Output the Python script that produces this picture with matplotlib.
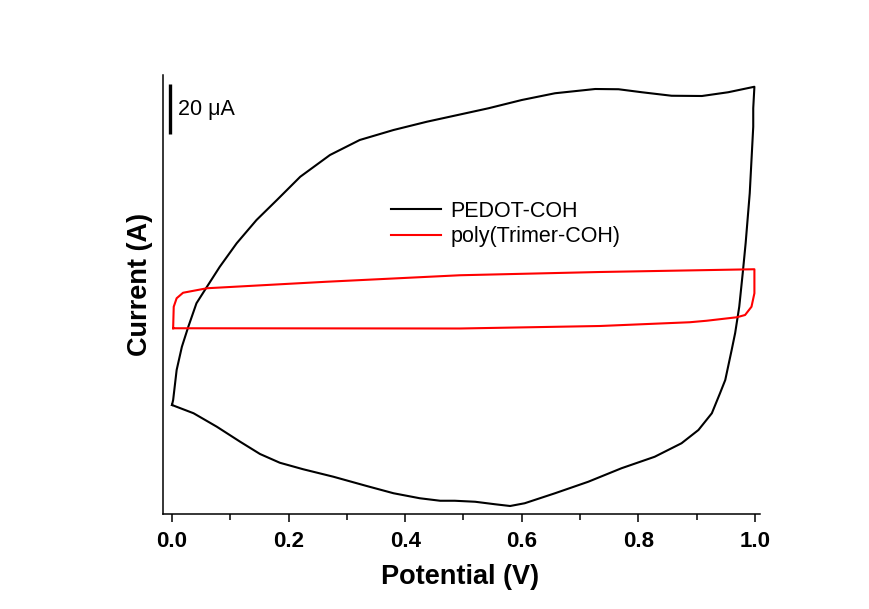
import matplotlib
matplotlib.use("Agg")
import matplotlib.pyplot as plt
import numpy as np

plt.rcParams["font.family"] = ["Liberation Sans", "DejaVu Sans"]

# PEDOT-COH, forward sweep (V, uA)
pedot_fwd_v = [0.000, 0.002, 0.008, 0.017, 0.028, 0.042, 0.060, 0.082, 0.111, 0.145,
               0.180, 0.220, 0.271, 0.322, 0.380, 0.437, 0.494, 0.543, 0.600, 0.657,
               0.726, 0.766, 0.806, 0.857, 0.909, 0.954, 0.999]
pedot_fwd_i = [-42.0, -40.0, -28.0, -18.7, -10.7, -1.3, 5.3, 13.3, 22.7, 32.0,
               40.0, 49.3, 58.0, 64.0, 68.0, 71.3, 74.2, 76.7, 80.0, 82.7,
               84.4, 84.3, 83.1, 81.7, 81.6, 83.1, 85.3]
# PEDOT-COH, reverse sweep
pedot_rev_v = [0.999, 0.997, 0.997, 0.991, 0.984, 0.979, 0.973, 0.966, 0.960, 0.949,
               0.940, 0.926, 0.903, 0.874, 0.828, 0.771, 0.714, 0.657, 0.605, 0.580,
               0.554, 0.520, 0.485, 0.460, 0.425, 0.380, 0.334, 0.277, 0.225, 0.185,
               0.151, 0.117, 0.077, 0.037, 0.000]
pedot_rev_i = [85.3, 76.7, 69.3, 42.7, 22.8, 10.8, -2.7, -13.2, -20.0, -32.0,
               -37.3, -45.3, -52.0, -57.3, -62.7, -67.3, -72.7, -77.3, -81.3, -82.4,
               -81.7, -80.7, -80.3, -80.3, -79.3, -77.3, -74.4, -70.7, -67.7, -65.1,
               -61.6, -56.7, -50.7, -45.3, -42.0]

# poly(Trimer-COH)
trimer_v = [0.002, 0.003, 0.008, 0.019, 0.060, 0.265, 0.494, 0.734, 0.999,
            0.999, 0.994, 0.983, 0.969, 0.917, 0.888, 0.734, 0.494, 0.002]
trimer_i = [-11.3, -2.7, 0.7, 2.9, 4.7, 7.3, 9.9, 11.2, 12.3,
            2.7, -2.7, -6.0, -6.9, -8.3, -8.9, -10.4, -11.4, -11.3]

scale_bar = 20  # uA

fig = plt.figure(figsize=(8.7, 6.09), dpi=100)
ax = fig.add_axes([163 / 870, 95 / 609, 597 / 870, 439 / 609])

ax.plot(pedot_fwd_v + pedot_rev_v, pedot_fwd_i + pedot_rev_i,
        color="black", lw=1.5, label="PEDOT-COH")
ax.plot(trimer_v, trimer_i, color="red", lw=1.5, label="poly(Trimer-COH)")

# 20 uA scale bar
ax.plot([-0.0034, -0.0034], [86.4, 86.4 - scale_bar], color="black", lw=2.4,
        solid_capstyle="butt")
ax.text(0.0105, 76.2, "20 μA", fontsize=15.5, ha="left", va="center")

ax.set_xlim(-0.0154, 1.0086)
ax.set_ylim(-85.6, 90.0)
ax.set_xticks(np.arange(0, 1.01, 0.2))
ax.set_xticks(np.arange(0.1, 1.0, 0.2), minor=True)
ax.set_xticklabels(["0.0", "0.2", "0.4", "0.6", "0.8", "1.0"],
                   fontsize=16, fontweight="bold")
ax.set_yticks([])
ax.tick_params(axis="x", which="major", direction="out", length=6, width=1.1, pad=6)
ax.tick_params(axis="x", which="minor", direction="out", length=4, width=1.1)
for side in ["top", "right"]:
    ax.spines[side].set_visible(False)
for side in ["left", "bottom"]:
    ax.spines[side].set_linewidth(1.1)

fig.text(460 / 870, 1 - 577 / 609, "Potential (V)", fontsize=19.5,
         fontweight="bold", ha="center", va="center")
fig.text(140 / 870, 1 - 284 / 609, "Current (A)", fontsize=19.5,
         fontweight="bold", ha="center", va="center", rotation=90)

ax.legend(loc="upper left", bbox_to_anchor=(391 / 870, 1 - 201 / 609),
          bbox_transform=fig.transFigure, frameon=False, fontsize=15.5,
          handlelength=2.3, handletextpad=0.45, labelspacing=0.2,
          borderpad=0, borderaxespad=0)

fig.savefig("out.png", dpi=100)
